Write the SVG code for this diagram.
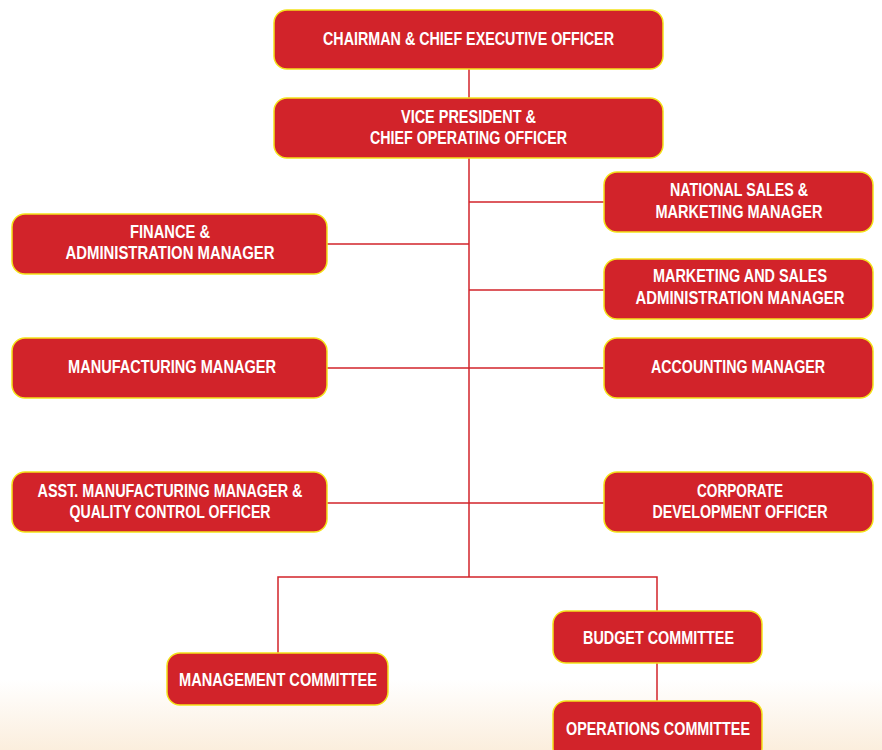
<svg xmlns="http://www.w3.org/2000/svg" width="882" height="750" viewBox="0 0 882 750">
<defs>
<linearGradient id="bg" x1="0" y1="0" x2="0" y2="1">
<stop offset="0" stop-color="#ffffff"/>
<stop offset="1" stop-color="#fbeedd"/>
</linearGradient>
</defs>
<style>
.box{fill:#d2232a;stroke:#f3e21a;stroke-width:1.5}
.t{fill:#ffffff;font-family:"Liberation Sans",Arial,sans-serif;font-weight:bold;font-size:18px;text-anchor:middle}
.ln{stroke:#d2232a;stroke-width:1.5;fill:none}
</style>
<rect x="0" y="0" width="882" height="750" fill="#ffffff"/>
<rect x="0" y="680" width="882" height="70" fill="url(#bg)"/>
<g id="connectors">
<line class="ln" x1="469" y1="69" x2="469" y2="98"/>
<line class="ln" x1="469" y1="158" x2="469" y2="577"/>
<line class="ln" x1="469" y1="202" x2="604" y2="202"/>
<line class="ln" x1="469" y1="290" x2="604" y2="290"/>
<line class="ln" x1="327" y1="244" x2="469" y2="244"/>
<line class="ln" x1="327" y1="368" x2="604" y2="368"/>
<line class="ln" x1="327" y1="503" x2="604" y2="503"/>
<polyline class="ln" points="278,653 278,577 657,577 657,611"/>
<line class="ln" x1="657" y1="663" x2="657" y2="701"/>
</g>
<g id="ceo"><rect class="box" x="274" y="10" width="389" height="59" rx="13"/><text class="t" x="468.5" y="45" textLength="291" lengthAdjust="spacingAndGlyphs">CHAIRMAN &amp; CHIEF EXECUTIVE OFFICER</text></g>
<g id="vp"><rect class="box" x="274" y="98" width="389" height="60" rx="13"/><text class="t" x="468.5" y="123" textLength="135" lengthAdjust="spacingAndGlyphs">VICE PRESIDENT &amp;</text><text class="t" x="468.5" y="144" textLength="197" lengthAdjust="spacingAndGlyphs">CHIEF OPERATING OFFICER</text></g>
<g id="national-sales"><rect class="box" x="604" y="172" width="269" height="60" rx="13"/><text class="t" x="739" y="196" textLength="138" lengthAdjust="spacingAndGlyphs">NATIONAL SALES &amp;</text><text class="t" x="739" y="218" textLength="167" lengthAdjust="spacingAndGlyphs">MARKETING MANAGER</text></g>
<g id="finance"><rect class="box" x="12" y="214" width="315" height="60" rx="13"/><text class="t" x="170" y="238" textLength="80" lengthAdjust="spacingAndGlyphs">FINANCE &amp;</text><text class="t" x="170" y="259" textLength="209" lengthAdjust="spacingAndGlyphs">ADMINISTRATION MANAGER</text></g>
<g id="marketing-sales-admin"><rect class="box" x="604" y="259" width="269" height="60" rx="13"/><text class="t" x="740" y="282" textLength="174" lengthAdjust="spacingAndGlyphs">MARKETING AND SALES</text><text class="t" x="740" y="304" textLength="209" lengthAdjust="spacingAndGlyphs">ADMINISTRATION MANAGER</text></g>
<g id="manufacturing"><rect class="box" x="12" y="338" width="315" height="60" rx="13"/><text class="t" x="172" y="373" textLength="208" lengthAdjust="spacingAndGlyphs">MANUFACTURING MANAGER</text></g>
<g id="accounting"><rect class="box" x="604" y="338" width="269" height="60" rx="13"/><text class="t" x="738" y="373" textLength="174" lengthAdjust="spacingAndGlyphs">ACCOUNTING MANAGER</text></g>
<g id="asst-manufacturing"><rect class="box" x="12" y="472" width="315" height="60" rx="13"/><text class="t" x="170" y="497" textLength="265" lengthAdjust="spacingAndGlyphs">ASST. MANUFACTURING MANAGER &amp;</text><text class="t" x="170" y="518" textLength="201" lengthAdjust="spacingAndGlyphs">QUALITY CONTROL OFFICER</text></g>
<g id="corporate-dev"><rect class="box" x="604" y="472" width="269" height="60" rx="13"/><text class="t" x="740" y="497" textLength="86" lengthAdjust="spacingAndGlyphs">CORPORATE</text><text class="t" x="740" y="518" textLength="175" lengthAdjust="spacingAndGlyphs">DEVELOPMENT OFFICER</text></g>
<g id="management-committee"><rect class="box" x="167" y="653" width="221" height="52" rx="13"/><text class="t" x="278" y="686" textLength="198" lengthAdjust="spacingAndGlyphs">MANAGEMENT COMMITTEE</text></g>
<g id="budget-committee"><rect class="box" x="553" y="611" width="209" height="52" rx="13"/><text class="t" x="658.5" y="644" textLength="151" lengthAdjust="spacingAndGlyphs">BUDGET COMMITTEE</text></g>
<g id="operations-committee"><rect class="box" x="553" y="701" width="209" height="60" rx="13"/><text class="t" x="658" y="735" textLength="184" lengthAdjust="spacingAndGlyphs">OPERATIONS COMMITTEE</text></g>
</svg>
